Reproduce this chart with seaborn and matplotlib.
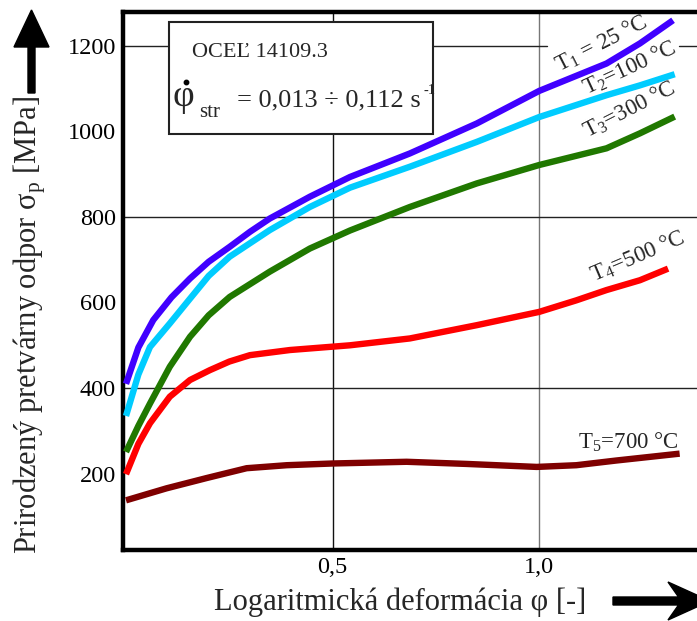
import numpy as np
import pandas as pd
import matplotlib
matplotlib.use("Agg")
import matplotlib.pyplot as plt
import seaborn as sns
from matplotlib.patches import Rectangle, FancyArrow
from matplotlib.lines import Line2D
from matplotlib.transforms import IdentityTransform

# =====================
# Data
# =====================
phi_t1 = [0.0, 0.03, 0.066, 0.11, 0.155, 0.2, 0.251, 0.3, 0.348, 0.445, 0.542, 0.687, 0.849, 1.0, 1.163, 1.244, 1.324]
sig_t1 = [410, 495, 559, 612, 656, 695, 730, 765, 796, 847, 893, 948, 1018, 1094, 1158, 1205, 1259]

phi_t2 = [0.0, 0.03, 0.058, 0.106, 0.155, 0.2, 0.251, 0.348, 0.445, 0.542, 0.687, 0.849, 1.0, 1.163, 1.244, 1.328]
sig_t2 = [335, 432, 496, 551, 609, 662, 707, 769, 823, 868, 917, 975, 1033, 1084, 1107, 1133]

phi_t3 = [0.0, 0.03, 0.058, 0.106, 0.155, 0.2, 0.251, 0.348, 0.445, 0.542, 0.687, 0.849, 1.0, 1.163, 1.244, 1.328]
sig_t3 = [251, 312, 364, 450, 520, 570, 613, 672, 726, 768, 823, 878, 921, 960, 995, 1034]

phi_t4 = [0.0, 0.03, 0.058, 0.106, 0.155, 0.203, 0.25, 0.300, 0.397, 0.542, 0.687, 0.849, 1.0, 1.09, 1.163, 1.244, 1.312]
sig_t4 = [199, 270, 318, 380, 419, 442, 462, 477, 489, 500, 516, 547, 578, 605, 629, 652, 679]

phi_t5 = [0.0, 0.098, 0.195, 0.292, 0.389, 0.5, 0.679, 0.824, 0.994, 1.09, 1.187, 1.34]
sig_t5 = [138, 166, 190, 213, 220, 224, 228, 223, 216, 220, 231, 247]

series = ["T1", "T2", "T3", "T4", "T5"]
colors = ["#4000FF", "#00CCFF", "#207800", "#FF0000", "#7F0000"]
x_ticks = [0.5, 1.0]
x_tick_labels = ["0,5", "1,0"]
y_ticks = [200, 400, 600, 800, 1000, 1200]

df = pd.concat([
    pd.DataFrame({"phi": x, "sigma": y, "T": name})
    for name, x, y in zip(series,
                          [phi_t1, phi_t2, phi_t3, phi_t4, phi_t5],
                          [sig_t1, sig_t2, sig_t3, sig_t4, sig_t5])
], ignore_index=True)

# =====================
# Style
# =====================
sns.set_theme(style="white")
plt.rcParams["font.family"] = ["Liberation Serif", "DejaVu Serif"]
plt.rcParams["mathtext.fontset"] = "custom"
plt.rcParams["mathtext.rm"] = "Liberation Serif"

W, H = 697, 621
fig = plt.figure(figsize=(W / 100, H / 100), dpi=100)
ax = fig.add_axes([122.7 / W, 71 / H, 1 - 122.7 / W, 538.3 / H])


def fxy(x, y):
    # pixel position (top-left origin) -> figure fraction
    return x / W, 1 - y / H


# =====================
# Curves
# =====================
sns.lineplot(data=df, x="phi", y="sigma", hue="T", palette=colors,
             linewidth=4.6, legend=False, sort=False, estimator=None, ax=ax)
for line in ax.lines:
    line.set_solid_capstyle("butt")
    line.set_solid_joinstyle("round")
    line.set_zorder(3)

ax.set_xlim(-0.008, 1.382)
ax.set_ylim(22, 1279)
ax.set_xticks(x_ticks)
ax.set_xticklabels(x_tick_labels)
ax.set_yticks(y_ticks)
ax.tick_params(length=0, labelsize=17.5, colors="black", pad=5)

# reference grid lines
ax.axvline(0.5, color="#111111", lw=1.0, zorder=1)
ax.axvline(1.0, color="#777777", lw=1.0, zorder=1)
ax.axhline(400, color="#222222", lw=1.0, zorder=1)
ax.axhline(800, color="#222222", lw=1.0, zorder=1)
ax.axhline(1200, xmax=0.739, color="#222222", lw=1.0, zorder=1)
ax.axhline(1200, xmin=0.968, color="#222222", lw=1.0, zorder=1)

for side in ["left", "top", "bottom"]:
    ax.spines[side].set_linewidth(3.2)
    ax.spines[side].set_color("black")
ax.spines["right"].set_visible(False)

ax.set_xlabel("Logaritmická deformácia φ [-]", fontsize=22, va="center")
ax.set_ylabel(r"Prirodzený pretvárny odpor σ$\mathregular{_p}$ [MPa]", fontsize=22,
              va="center", ha="center")
ax.xaxis.set_label_coords((400 - 122.7) / 574.3, (550 - 602) / 538.3)
ax.yaxis.set_label_coords((30 - 122.7) / 574.3, (550 - 325) / 538.3)

# =====================
# Curve labels
# =====================
lab_kw = dict(ha="center", va="center", fontsize=16.5, rotation_mode="anchor")
fig.text(*fxy(602, 44), r"T$\mathregular{_1}$ = 25 °C", rotation=27, **lab_kw)
fig.text(*fxy(630, 68), r"T$\mathregular{_2}$=100 °C", rotation=25, **lab_kw)
fig.text(*fxy(630, 110), r"T$\mathregular{_3}$=300 °C", rotation=27, **lab_kw)
fig.text(*fxy(638, 257), r"T$\mathregular{_4}$=500 °C", rotation=23, **lab_kw)
fig.text(*fxy(628, 442), r"T$\mathregular{_5}$=700 °C", rotation=0, **lab_kw)

# =====================
# Info box
# =====================
box = Rectangle(fxy(169, 134), (433 - 169) / W, (134 - 22) / H,
                transform=fig.transFigure, facecolor="white",
                edgecolor="#222222", linewidth=1.5, zorder=5)
fig.add_artist(box)
fig.text(*fxy(192, 56.7), "OCEĽ 14109.3", fontsize=16, ha="left", va="baseline", zorder=6)
fig.text(*fxy(172, 106), "φ", fontsize=27, ha="left", va="baseline", zorder=6)
fig.add_artist(Line2D([186 / W], [1 - 82 / H], marker="o", markersize=3.2,
                      color="black", transform=fig.transFigure, zorder=6))
fig.text(*fxy(199, 117), "str", fontsize=15, ha="left", va="baseline", zorder=6)
fig.text(*fxy(237, 106), "= 0,013 ÷ 0,112 s", fontsize=19, ha="left", va="baseline", zorder=6)
fig.text(*fxy(423, 94), "-1", fontsize=10.5, ha="left", va="baseline", zorder=6)

# =====================
# Axis arrows
# =====================
fig.add_artist(FancyArrow(31.5, H - 93, 0, 83, width=7, head_width=35, head_length=37,
                          length_includes_head=True, color="black",
                          transform=IdentityTransform()))
fig.add_artist(FancyArrow(613, H - 601, 97, 0, width=8, head_width=38, head_length=42,
                          overhang=0.25, length_includes_head=True, color="black",
                          transform=IdentityTransform()))

fig.savefig("out.png", dpi=100)
